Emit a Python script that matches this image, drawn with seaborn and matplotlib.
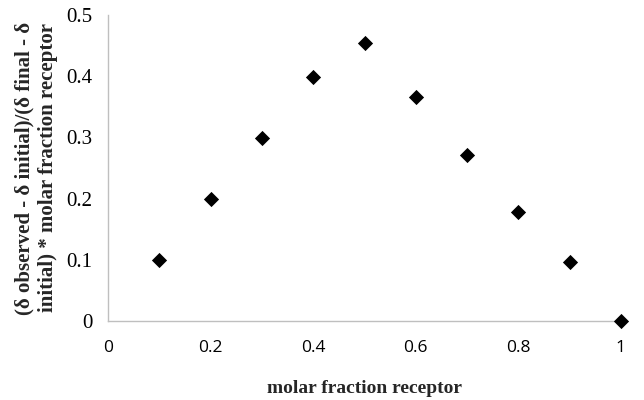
import matplotlib
matplotlib.use("Agg")
import matplotlib.pyplot as plt
import seaborn as sns
import pandas as pd

molar_fraction = [0.1, 0.2, 0.3, 0.4, 0.5, 0.6, 0.7, 0.8, 0.9, 1.0]
job_value = [0.100, 0.199, 0.299, 0.399, 0.454, 0.366, 0.271, 0.178, 0.096, 0.0]
x_ticks = [0, 0.2, 0.4, 0.6, 0.8, 1]
y_ticks = [0, 0.1, 0.2, 0.3, 0.4, 0.5]


def main():
    sns.set_style("white")
    data = pd.DataFrame({"x": molar_fraction, "y": job_value})

    fig = plt.figure(figsize=(6.44, 4.0), dpi=100)
    ax = fig.add_axes([0.168, 0.1975, 0.796, 0.765])

    sns.scatterplot(data=data, x="x", y="y", marker="D", s=60, color="black",
                    edgecolor="black", linewidth=0, ax=ax, clip_on=False, zorder=5)

    ax.set_xlim(0, 1)
    ax.set_ylim(0, 0.5)
    ax.set_xticks(x_ticks)
    ax.set_yticks(y_ticks)
    ax.set_xticklabels([f"{v:g}" for v in x_ticks], fontfamily="Open Sans", fontsize=12.5)
    ax.set_yticklabels([f"{v:g}" for v in y_ticks], fontfamily="Liberation Serif", fontsize=15)

    for side in ["top", "right"]:
        ax.spines[side].set_visible(False)
    for side in ["left", "bottom"]:
        ax.spines[side].set_color("#bfbfbf")
        ax.spines[side].set_linewidth(1.0)
    ax.tick_params(axis="both", direction="out", length=5, width=1.0,
                   color="#bfbfbf", labelcolor="black")
    ax.tick_params(axis="x", pad=9)
    ax.tick_params(axis="y", pad=6.5)

    ax.set_xlabel("molar fraction receptor", fontfamily="Liberation Serif",
                  fontweight="bold", fontsize=14, labelpad=17)
    ax.set_ylabel("(\u03b4 observed - \u03b4 initial)/(\u03b4 final - \u03b4\ninitial) * molar fraction receptor",
                  fontfamily="Liberation Serif", fontweight="bold", fontsize=15,
                  labelpad=6, linespacing=1.25)

    fig.savefig("out.png", dpi=100)


if __name__ == "__main__":
    main()
